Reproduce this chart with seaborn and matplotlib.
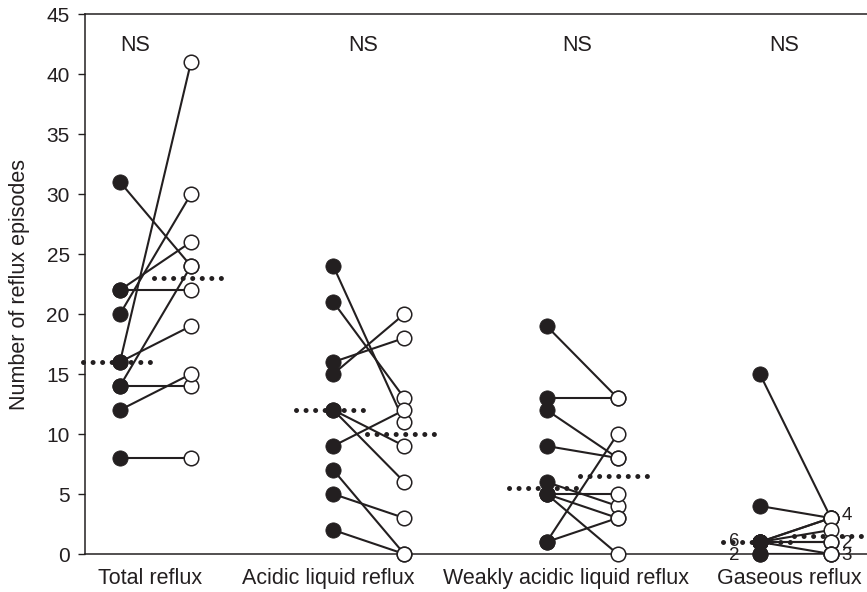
import numpy as np
import pandas as pd
import matplotlib
matplotlib.use("Agg")
import matplotlib.pyplot as plt
import seaborn as sns

# Reflux episodes per patient, before (filled) and after (open) treatment
categories = ["Total reflux", "Acidic liquid reflux",
              "Weakly acidic liquid reflux", "Gaseous reflux"]

total_before = [31, 22, 22, 20, 16, 16, 14, 14, 12, 8]
total_after = [24, 26, 22, 30, 41, 19, 24, 14, 15, 8]

acidic_before = [24, 21, 16, 15, 12, 12, 9, 7, 5, 2]
acidic_after = [11, 13, 18, 20, 9, 6, 12, 0, 3, 0]

weak_before = [19, 13, 12, 9, 6, 5, 5, 5, 1, 1]
weak_after = [13, 13, 8, 8, 4, 5, 3, 0, 10, 3]

gas_before = [15, 4, 1, 1, 1, 1, 1, 1, 0, 0]
gas_after = [3, 3, 3, 3, 2, 1, 1, 0, 0, 0]

significance = ["NS", "NS", "NS", "NS"]

# values in the gaseous group whose overlapping points get a count label
gas_before_counted = [1, 0]
gas_after_counted = [3, 1, 0]

INK = "#231f20"
OFF = 0.1665  # half distance between before/after columns
# horizontal nudges (in category units) for the labels under / above each group
label_shift = [-0.026, -0.19, -0.077, -0.028]
ns_shift = [-0.096, -0.028, -0.021, -0.052]

sns.set_theme(style="ticks")
plt.rcParams["font.family"] = ["Liberation Sans", "DejaVu Sans"]

groups = [(total_before, total_after), (acidic_before, acidic_after),
          (weak_before, weak_after), (gas_before, gas_after)]

rows = []
for ci, (before, after) in enumerate(groups):
    for si, (vb, va) in enumerate(zip(before, after)):
        rows.append(dict(cat=ci, subject=f"{ci}-{si}", phase="before", value=vb))
        rows.append(dict(cat=ci, subject=f"{ci}-{si}", phase="after", value=va))
df = pd.DataFrame(rows)
df["x"] = df["cat"] + np.where(df["phase"] == "before", -OFF, OFF)

fig = plt.figure(figsize=(8.67, 5.92), dpi=100)
ax = fig.add_axes([85 / 867, 38 / 592, 782 / 867, 540 / 592])

# paired lines
sns.lineplot(data=df, x="x", y="value", units="subject", estimator=None,
             color=INK, linewidth=1.5, legend=False, ax=ax, zorder=2)

# median lines (dotted)
for ci, (before, after) in enumerate(groups):
    for vals, sign in ((before, -1), (after, 1)):
        xc = ci + sign * OFF
        m = np.median(vals)
        ax.plot([xc - 0.175, xc + 0.175], [m, m], color=INK, lw=3.6,
                linestyle=(0, (0.01, 1.9)), dash_capstyle="round",
                zorder=3, clip_on=False)

# markers
sns.scatterplot(data=df[df["phase"] == "before"], x="x", y="value",
                color=INK, edgecolor=INK, s=120, linewidth=0.6,
                legend=False, ax=ax, zorder=4, clip_on=False)
sns.scatterplot(data=df[df["phase"] == "after"], x="x", y="value",
                color="white", edgecolor=INK, s=110, linewidth=1.1,
                legend=False, ax=ax, zorder=4, clip_on=False)

# significance labels
for ci, lab in enumerate(significance):
    ax.text(ci + ns_shift[ci], 42.4, lab, ha="center", va="center",
            fontsize=15.5, color=INK)

# counts of overlapping points in the gaseous group
gi = 3
for v in gas_before_counted:
    n = gas_before.count(v)
    ax.text(gi - OFF - 0.095, v - (0.1 if v == 0 else -0.05), str(n),
            ha="right", va="center", fontsize=13.5, color=INK, zorder=5,
            clip_on=False)
for v in gas_after_counted:
    n = gas_after.count(v)
    ax.text(gi + OFF + 0.05, v + (0.25 if v > 1 else -0.1), str(n),
            ha="left", va="center", fontsize=13.5, color=INK, zorder=5,
            clip_on=False)

ax.set_xlim(-0.3305, 3.3357)
ax.set_ylim(0, 45)
ax.set_yticks(np.arange(0, 46, 5))
ax.set_xticks([ci + label_shift[ci] for ci in range(len(categories))])
ax.set_xticklabels(categories)
ax.set_xlabel("")
ax.set_ylabel("Number of reflux episodes", fontsize=15.5, color=INK, labelpad=12)

ax.tick_params(axis="y", length=5, width=1, color=INK, labelcolor=INK,
               labelsize=15, pad=6)
ax.tick_params(axis="x", length=0, labelcolor=INK, labelsize=15.5, pad=10)

for side in ("left", "bottom", "top"):
    ax.spines[side].set_color(INK)
    ax.spines[side].set_linewidth(1.1)
ax.spines["right"].set_visible(False)

fig.savefig("out.png", dpi=100)
